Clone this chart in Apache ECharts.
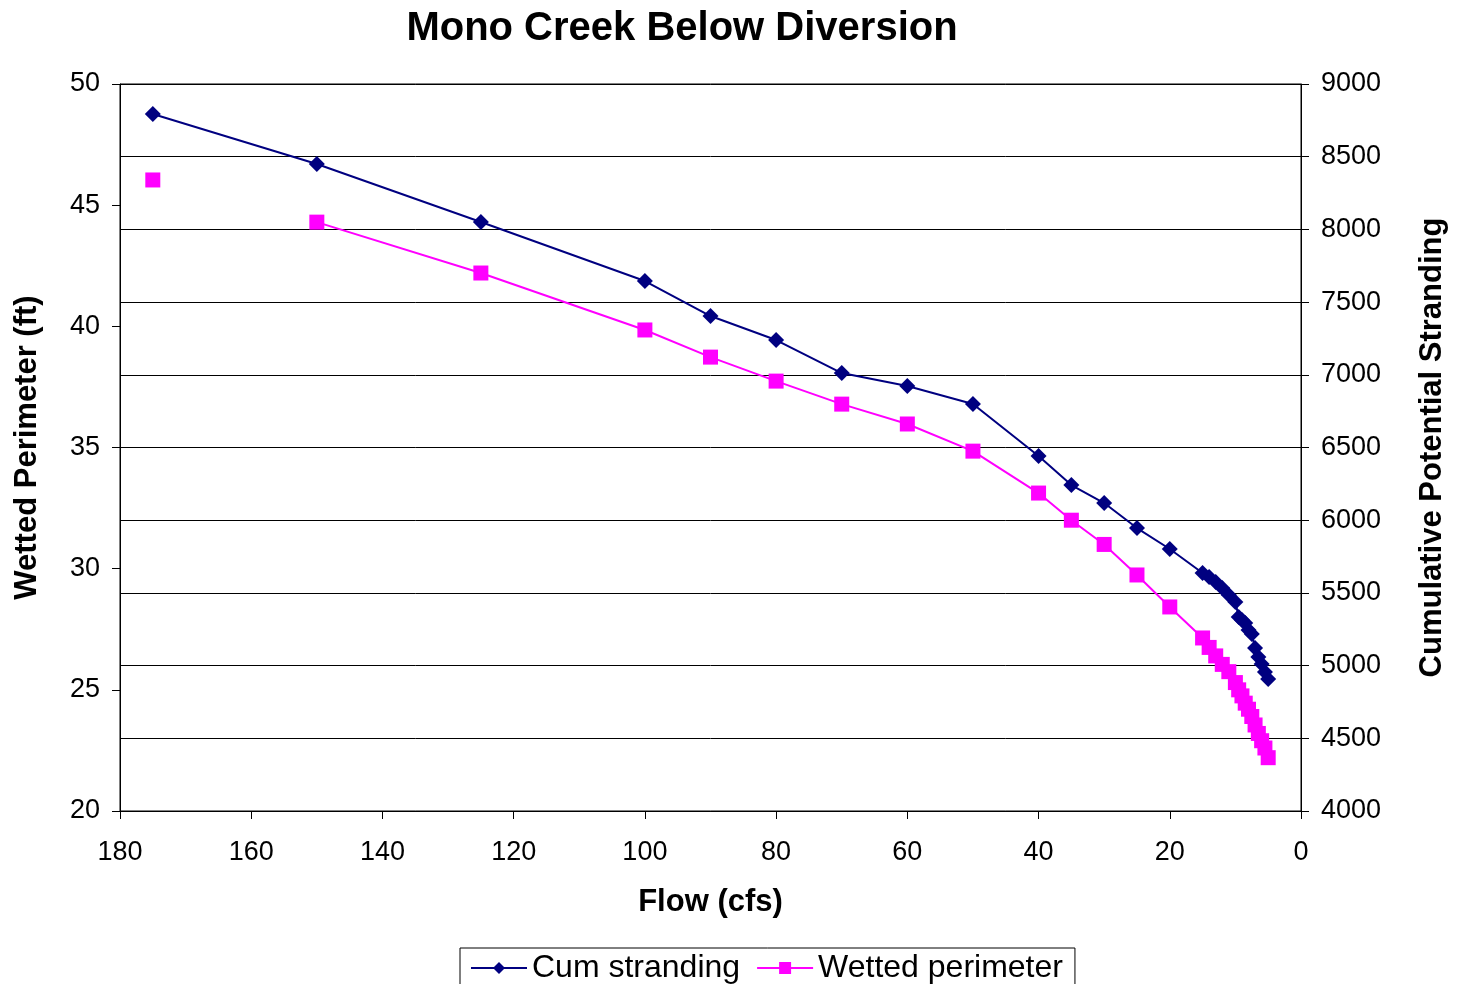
<!DOCTYPE html>
<html>
<head>
<meta charset="utf-8">
<script src="https://cdn.jsdelivr.net/npm/echarts@6/dist/echarts.min.js"></script>
<style>
  html, body { margin: 0; padding: 0; background: #fff; }
  #chart { width: 1458px; height: 984px; }
</style>
</head>
<body>
<div id="chart"></div>
<script>
// flow (cfs) shared by both series
var flows = [175, 150, 125, 100, 90, 80, 70, 60, 50, 40, 35, 30, 25, 20,
  15, 14, 13, 12, 11, 10, 9.5, 9, 8.5, 8, 7.5, 7, 6.5, 6, 5.5, 5]
var cumStranding = [8794, 8450, 8051, 7645, 7404, 7239, 7012, 6923, 6799, 6442, 6242, 6118, 5946, 5802,
  5637, 5609, 5575, 5534, 5486, 5437, 5334, 5314, 5293, 5245, 5217, 5121, 5059, 5011, 4956, 4908]
var wettedPerimeter = [46.04, 44.3, 42.2, 39.85, 38.73, 37.74, 36.79, 35.97, 34.85, 33.12, 32.0, 31.0, 29.74, 28.42,
  27.14, 26.75, 26.4, 26.05, 25.75, 25.3, 25.0, 24.75, 24.45, 24.2, 23.9, 23.55, 23.2, 22.9, 22.6, 22.2]
var leftTicks = [20, 50, 5]
var rightTicks = [4000, 9000, 500]

var font = 'Liberation Sans, Arial, sans-serif'

var cumData = flows.map(function(f, i) { return [f, cumStranding[i]] })
var wpData = flows.map(function(f, i) { return [f, wettedPerimeter[i]] })
// the 175 cfs wetted perimeter point is not joined to the rest
wpData.splice(1, 0, ['-', '-'])

var chart = echarts.init(document.getElementById('chart'))
chart.setOption({
  backgroundColor: '#fff',
  animation: false,
  textStyle: { fontFamily: font },
  title: {
    text: 'Mono Creek Below Diversion',
    left: 677,
    textAlign: 'center',
    top: 4,
    textStyle: { fontSize: 40, fontWeight: 'bold', color: '#000', fontFamily: font }
  },
  legend: {
    bottom: -14,
    left: 460,
    itemWidth: 56,
    itemHeight: 15,
    itemGap: 16,
    padding: [4, 12, 14, 10],
    borderColor: '#000',
    borderWidth: 1,
    textStyle: { fontSize: 32, color: '#000', fontFamily: font },
    data: ['Cum stranding', 'Wetted perimeter']
  },
  grid: {
    left: 120,
    right: 157,
    top: 84,
    bottom: 173,
    show: true,
    borderColor: '#000',
    borderWidth: 1
  },
  xAxis: {
    type: 'value',
    inverse: true,
    min: 0,
    max: 180,
    interval: 20,
    name: 'Flow (cfs)',
    nameLocation: 'middle',
    nameGap: 76,
    nameTextStyle: { fontSize: 31, fontWeight: 'bold', color: '#000' },
    axisLine: { onZero: false, lineStyle: { color: '#000' } },
    axisTick: { show: true, length: 8, lineStyle: { color: '#000' } },
    axisLabel: { fontSize: 27, color: '#000', margin: 28 },
    splitLine: { show: false }
  },
  yAxis: [{
    type: 'value',
    position: 'left',
    min: leftTicks[0],
    max: leftTicks[1],
    interval: leftTicks[2],
    name: 'Wetted Perimeter (ft)',
    nameLocation: 'middle',
    nameGap: 77,
    nameTextStyle: { fontSize: 31, fontWeight: 'bold', color: '#000' },
    axisLine: { show: true, onZero: false, lineStyle: { color: '#000' } },
    axisTick: { show: true, length: 8, lineStyle: { color: '#000' } },
    axisLabel: { fontSize: 27, color: '#000', margin: 20 },
    splitLine: { show: false }
  }, {
    type: 'value',
    position: 'right',
    min: rightTicks[0],
    max: rightTicks[1],
    interval: rightTicks[2],
    name: 'Cumulative Potential Stranding',
    nameLocation: 'middle',
    nameGap: 116,
    nameRotate: 90,
    nameTextStyle: { fontSize: 31, fontWeight: 'bold', color: '#000' },
    axisLine: { show: true, onZero: false, lineStyle: { color: '#000' } },
    axisTick: { show: true, length: 8, lineStyle: { color: '#000' } },
    axisLabel: {
      fontSize: 27, color: '#000', margin: 20,
      formatter: function(v) { return String(v) }
    },
    splitLine: { show: true, lineStyle: { color: '#000', width: 1 } }
  }],
  series: [{
    name: 'Cum stranding',
    type: 'line',
    yAxisIndex: 1,
    data: cumData,
    symbol: 'diamond',
    symbolSize: 16,
    itemStyle: { color: '#000080' },
    lineStyle: { color: '#000080', width: 2 }
  }, {
    name: 'Wetted perimeter',
    type: 'line',
    yAxisIndex: 0,
    data: wpData,
    connectNulls: false,
    symbol: 'rect',
    symbolSize: 15,
    itemStyle: { color: '#ff00ff' },
    lineStyle: { color: '#ff00ff', width: 2 }
  }]
})
</script>
</body>
</html>
